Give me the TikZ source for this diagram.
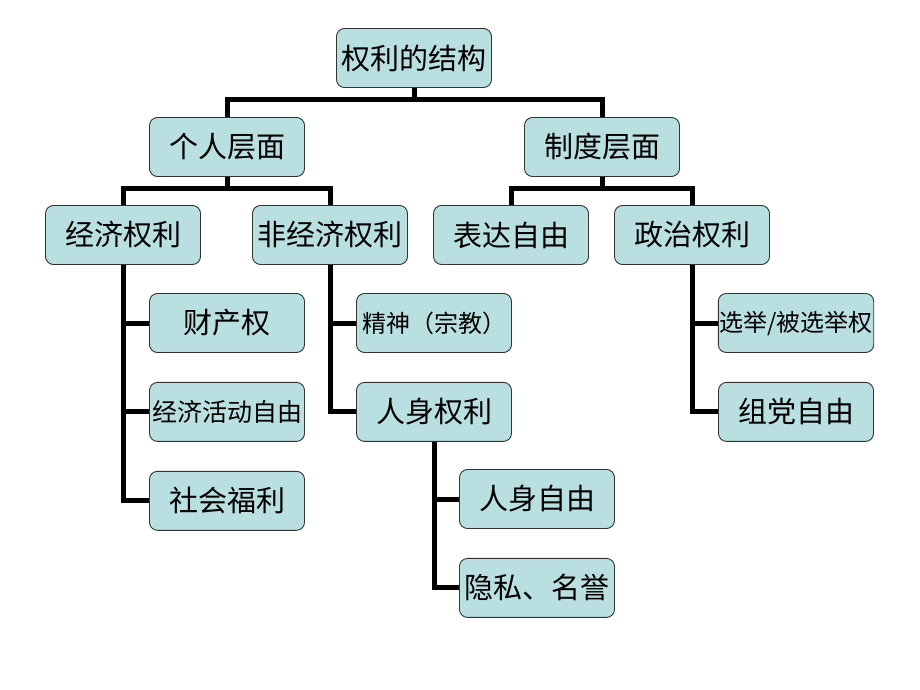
\documentclass[tikz,border=0pt]{standalone}
\usepackage{fontspec}
\newfontfamily\cjk{Noto Sans CJK SC}
\usetikzlibrary{positioning}
\definecolor{boxfill}{HTML}{B9DFE1}
\begin{document}
\begin{tikzpicture}[x=1pt,y=1pt,
	box/.style={draw=black!80,
				rectangle,
				rounded corners=8pt,
				fill=boxfill,
				line width=0.9pt,
				minimum width=155pt,
				minimum height=59pt,
				inner sep=1pt,
				font=\cjk\fontsize{29}{32}\selectfont,
				align=center},
	small/.style={font=\cjk\fontsize{24}{26}\selectfont},
	conn/.style={line width=5pt, draw=black}]
	\useasboundingbox (0,0) rectangle (920,-690);
	% top two levels
	\node[box] (r1) at (414,-58) {权利的结构};
	\node[box] (p1) at (227,-147) {个人层面};
	\node[box] (p2) at (602,-147) {制度层面};
	\node[box] (q1) at (123,-235) {经济权利};
	\node[box] (q2) at (330,-235) {非经济权利};
	\node[box] (q3) at (511,-235) {表达自由};
	\node[box] (q4) at (692,-235) {政治权利};
	% leaves
	\node[box] (e1) at (227,-323) {财产权};
	\node[box,below=29pt of e1,font=\cjk\fontsize{25}{28}\selectfont] (e2) {经济活动自由};
	\node[box,below=29pt of e2] (e3) {社会福利};
	\node[box,small] (n1) at (434,-323) {精神（宗教）};
	\node[box,below=29pt of n1] (n2) {人身权利};
	\node[box] (m1) at (537,-499) {人身自由};
	\node[box,below=29pt of m1] (m2) {隐私、名誉};
	\node[box,small] (z1) at (796,-323) {选举/被选举权};
	\node[box,below=29pt of z1] (z2) {组党自由};
	% connectors
	\draw[conn] (r1.south) -- ++(0,-12) -| (p1.north);
	\draw[conn] (r1.south) -- ++(0,-12) -| (p2.north);
	\draw[conn] (p1.south) -- ++(0,-12) -| (q1.north);
	\draw[conn] (p1.south) -- ++(0,-12) -| (q2.north);
	\draw[conn] (p2.south) -- ++(0,-12) -| (q3.north);
	\draw[conn] (p2.south) -- ++(0,-12) -| (q4.north);
	\foreach \c in {e1,e2,e3} \draw[conn] (q1.south) |- (\c.west);
	\foreach \c in {n1,n2} \draw[conn] (q2.south) |- (\c.west);
	\foreach \c in {m1,m2} \draw[conn] (n2.south) |- (\c.west);
	\foreach \c in {z1,z2} \draw[conn] (q4.south) |- (\c.west);
\end{tikzpicture}
\end{document}
